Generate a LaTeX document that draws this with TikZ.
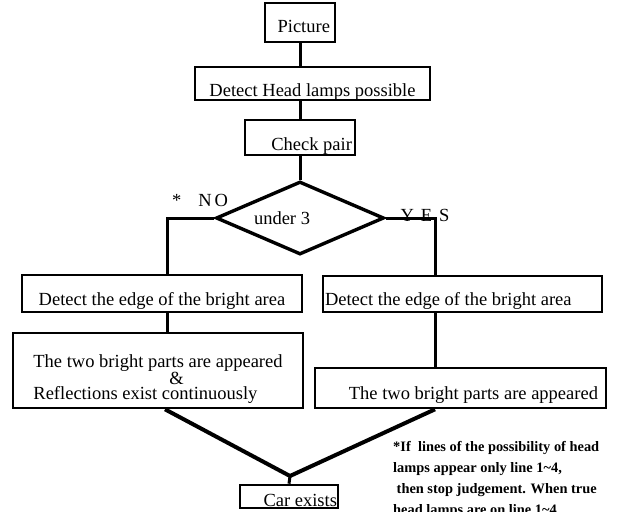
\documentclass[tikz,border=0pt]{standalone}
\usepackage{fontspec}
\setmainfont{Liberation Serif}
\usetikzlibrary{shapes.geometric}

\tikzset{
	box/.style={draw, line width=2.6pt, inner ysep=0pt, inner xsep=4pt, font=\fontsize{18.5}{15.5}\selectfont},
	link/.style={line width=3pt},
	joinline/.style={line width=4pt, line join=miter},
	lbl/.style={inner sep=0pt, font=\fontsize{18.5}{18.5}\selectfont},
	note/.style={inner sep=0pt, align=flush left, font=\fontsize{14.4}{21}\selectfont\bfseries},
}

\begin{document}
\begin{tikzpicture}[x=1pt,y=-1pt]
		\useasboundingbox (0,0) rectangle (617,511);
		
		\node [box, text width=60pt, inner xsep=5pt, align=flush right, text height=30pt, text depth=9pt] (pic) at (300,22.5) {Picture};
		\node [box, minimum width=235pt, text height=29pt, text depth=4pt] (dhl) at (312.5,83.5) {Detect Head lamps possible};
		\node [box, text width=104pt, inner xsep=3pt, align=flush right, text height=30pt, text depth=5pt] (chk) at (300,137.5) {Check pair};
		
		\node [diamond, draw, line width=3.4pt, inner sep=0pt, aspect=2.3, minimum width=168pt, minimum height=73pt,
			text width=92pt, align=flush left, font=\fontsize{18.5}{18.5}\selectfont] (cnt) at (300,218) {under 3};
		
		\node [lbl, anchor=base] (no) at (200,206) {*\hspace{17pt}N\hspace{3pt}O};
		\node [lbl, anchor=base] (yes) at (425,221) {Y\hspace{7pt}E\hspace{7pt}S};
		
		\coordinate (nocorner) at (167,218);
		\coordinate (yescorner) at (435,218);
		
		\node [box, minimum width=280pt, text height=30pt, text depth=7pt] (edgeL) at (162,293.5) {Detect the edge of the bright area};
		\node [box, text width=275pt, inner xsep=2pt, align=flush left, text height=29pt, text depth=7pt] (edgeR) at (462.5,294) {Detect the edge of the bright area};
		
		\node [box, minimum width=290pt, minimum height=75pt, align=flush left] (twoL) at (158,370.5)
			{\rule{0pt}{30pt}The two bright parts are appeared\\ \hspace*{136pt}\&\\ Reflections exist continuously};
		\node [box, text width=275pt, inner xsep=8pt, align=flush right, text height=31pt, text depth=9pt] (twoR) at (460.5,388) {The two bright parts are appeared};
		
		\node [box, text width=96pt, inner xsep=1pt, align=flush right, text height=21pt, text depth=2pt] (car) at (289,496.5) {Car exists};
		
		\coordinate (join) at (290,476);
		
		% main line
		\draw [link] (pic.south) -- (pic.south |- dhl.north);
		\draw [link] (chk.north |- dhl.south) -- (chk.north);
		\draw [link] (chk.south) -- (cnt.north);
		
		% NO / YES branches
		\draw [link] (cnt.west) -- (nocorner) -- (nocorner |- edgeL.north);
		\draw [link] (cnt.east) -- (yescorner) -- (yescorner |- edgeR.north);
		\draw [link] (nocorner |- edgeL.south) -- (nocorner |- twoL.north);
		\draw [link] (yescorner |- edgeR.south) -- (yescorner |- twoR.north);
		
		\draw [joinline] ([xshift=7pt]twoL.south) -- (join) -- (twoR.south -| yescorner);
		\draw [link] (join) -- (car.north);
		
		\node [note, anchor=north west] (fn) at (393,441)
			{*If\ \ lines of the possibility of head\\
			lamps appear only line 1\textasciitilde4,\\
			\hspace*{3.5pt}then stop judgement. When true\\
			head lamps are on line 1\textasciitilde4};
		
\end{tikzpicture}
\end{document}
